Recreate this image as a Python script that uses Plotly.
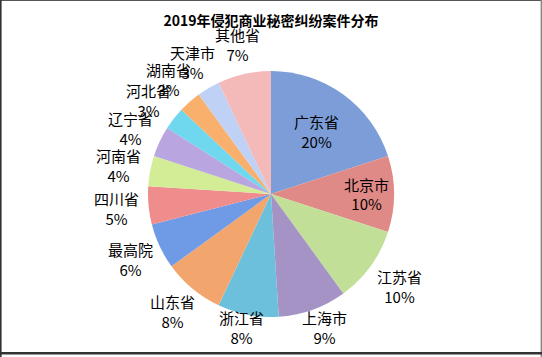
import math
import plotly.graph_objects as go

title_text = "2019年侵犯商业秘密纠纷案件分布"
regions = ["广东省", "北京市", "江苏省", "上海市", "浙江省", "山东省", "最高院",
           "四川省", "河南省", "辽宁省", "河北省", "湖南省", "天津市", "其他省"]
shares = [20, 10, 10, 9, 8, 8, 6, 5, 4, 4, 3, 3, 3, 7]
colors = ["#7c9dd8", "#e08a87", "#c2df98", "#a593c6", "#6cc0dc", "#f2a56c", "#6f9be6",
          "#ef8d8d", "#d3ec96", "#b9a5e0", "#6fd7ee", "#f9b06c", "#bfd1f4", "#f4baba"]
inside_flags = [True, True] + [False] * 12

W, H = 542, 357
cx, cy, R = 271, 194, 123
FONT = "Noto Sans CJK SC"

texttemplates = ["%{label}<br>%{value}%" if f else "" for f in inside_flags]
positions = ["inside" if f else "none" for f in inside_flags]

fig = go.Figure(go.Pie(
    labels=regions,
    values=shares,
    sort=False,
    direction="clockwise",
    rotation=0,
    automargin=False,
    marker=dict(colors=colors, line=dict(width=0)),
    texttemplate=texttemplates,
    textposition=positions,
    insidetextorientation="horizontal",
    textfont=dict(family=FONT, size=15, color="#000000"),
    hoverinfo="label+percent",
    showlegend=False,
    domain=dict(x=[(cx - R) / W, (cx + R) / W],
                y=[(H - cy - R) / H, (H - cy + R) / H]),
))

# outside labels placed next to each slice (computed from slice mid-angles)
annotations = []
total = sum(shares)
cum = 0
for name, v, f in zip(regions, shares, inside_flags):
    mid = (cum + v / 2) / total * 2 * math.pi
    cum += v
    if f:
        continue
    s, c = math.sin(mid), -math.cos(mid)
    w, h = 16 * len(name), 44
    gap = 12 if s > 0 else 8
    px = cx + (R + gap) * s + w / 2 * s
    py = cy + (R + gap) * c + h / 2 * c
    py = min(py, 327)
    annotations.append(dict(
        x=px / W, y=1 - py / H, xref="paper", yref="paper",
        text=f"{name}<br>{v}%", showarrow=False, xanchor="center", yanchor="middle",
        align="center", font=dict(family=FONT, size=15, color="#000000"),
    ))

def hline(py, color, width):
    return dict(type="line", xref="paper", yref="paper", x0=0, x1=1,
                y0=1 - py / H, y1=1 - py / H, line=dict(color=color, width=width))

def vline(px, color, width):
    return dict(type="line", xref="paper", yref="paper", x0=px / W, x1=px / W,
                y0=0, y1=1, line=dict(color=color, width=width))

fig.update_layout(
    width=W, height=H,
    margin=dict(l=0, r=0, t=0, b=0, autoexpand=False),
    paper_bgcolor="white",
    title=dict(text="<b>" + title_text + "</b>", x=0.5, xanchor="center",
               y=1 - 21 / H, yanchor="middle", automargin=False,
               font=dict(family=FONT, size=14, color="#000000")),
    annotations=annotations,
    shapes=[
        hline(0.5, "#555555", 1),
        vline(0.8, "#333333", 1.6),
        vline(541.3, "#888888", 1.4),
        hline(353.3, "#333333", 2.4),
    ],
)

fig.write_html("out.html", config={"displayModeBar": False},
               post_script="document.body.style.margin='0';document.body.style.overflow='hidden';")
